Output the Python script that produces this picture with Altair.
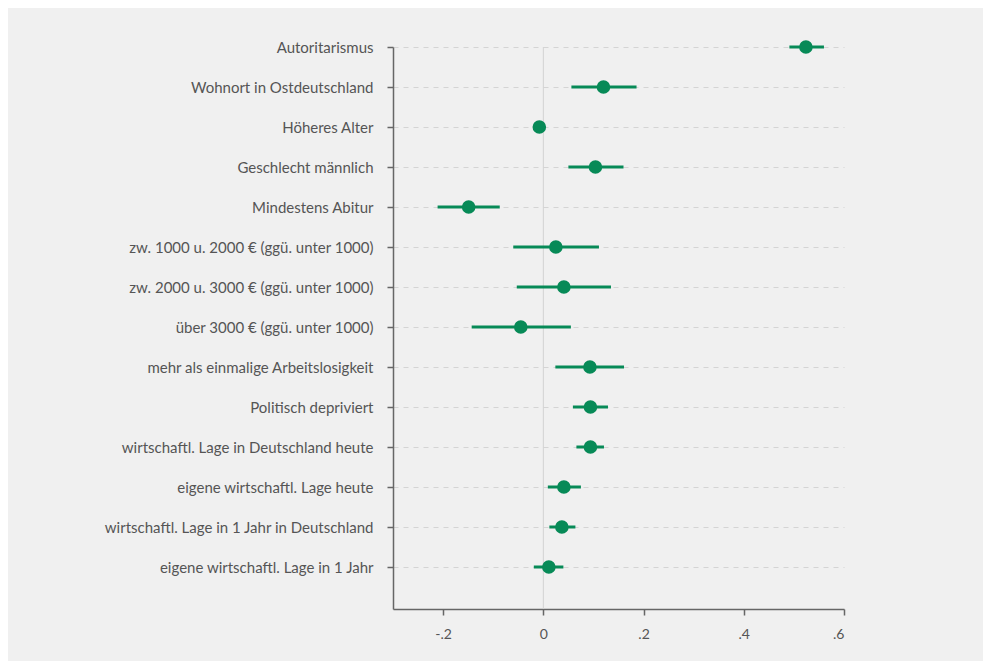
import json
import altair as alt
import pandas as pd

labels = [
    "Autoritarismus",
    "Wohnort in Ostdeutschland",
    "Höheres Alter",
    "Geschlecht männlich",
    "Mindestens Abitur",
    "zw. 1000 u. 2000 € (ggü. unter 1000)",
    "zw. 2000 u. 3000 € (ggü. unter 1000)",
    "über 3000 € (ggü. unter 1000)",
    "mehr als einmalige Arbeitslosigkeit",
    "Politisch depriviert",
    "wirtschaftl. Lage in Deutschland heute",
    "eigene wirtschaftl. Lage heute",
    "wirtschaftl. Lage in 1 Jahr in Deutschland",
    "eigene wirtschaftl. Lage in 1 Jahr",
]
coef = [0.524, 0.120, -0.008, 0.104, -0.149, 0.025, 0.041, -0.045, 0.093, 0.094, 0.094, 0.041, 0.037, 0.011]
lower = [0.491, 0.056, -0.016, 0.050, -0.211, -0.060, -0.053, -0.143, 0.024, 0.059, 0.066, 0.009, 0.012, -0.019]
upper = [0.560, 0.186, 0.000, 0.160, -0.087, 0.111, 0.135, 0.055, 0.161, 0.129, 0.121, 0.075, 0.064, 0.040]
x_ticks = [-0.2, 0, 0.2, 0.4, 0.6]

df = pd.DataFrame({
    "row": list(range(len(labels))),
    "label": labels,
    "coef": coef,
    "lower": lower,
    "upper": upper,
})

GREEN = "#078a57"
FONT = "Lato"

label_expr = json.dumps(labels, ensure_ascii=False) + "[datum.value]"
x_label_expr = ("datum.value == 0 ? '0' : (datum.value < 0 ? '-' : '') + "
                "replace(format(abs(datum.value), '.1f'), '0.', '.')")

x_scale = alt.Scale(domain=[-0.3, 0.6], nice=False, zero=False)
y_scale = alt.Scale(domain=[0, 14.05], reverse=True, nice=False, zero=False)

x_axis = alt.Axis(values=x_ticks, labelExpr=x_label_expr, grid=False, title=None,
                  domainColor="#666666", domainWidth=1.5, tickColor="#666666",
                  tickWidth=1.5, tickSize=6, labelPadding=12, labelColor="#555555",
                  labelFont=FONT, labelFontSize=14)
y_axis = alt.Axis(values=list(range(len(labels))), labelExpr=label_expr, title=None,
                  grid=True, gridDash=[5, 5], gridColor="#d4d4d4", gridWidth=1,
                  domainColor="#666666", domainWidth=1.5, tickColor="#666666",
                  tickWidth=1.5, tickSize=6, labelPadding=14, labelColor="#555555",
                  labelFont=FONT, labelFontSize=15, labelLimit=400)

base = alt.Chart(df)

zero_rule = alt.Chart(pd.DataFrame({"x": [0]})).mark_rule(
    color="#d2d2d2", strokeWidth=1
).encode(x=alt.X("x:Q", scale=x_scale, axis=x_axis))

bars = base.mark_rule(color=GREEN, strokeWidth=3).encode(
    x=alt.X("lower:Q", scale=x_scale, axis=x_axis),
    x2="upper:Q",
    y=alt.Y("row:Q", scale=y_scale, axis=y_axis),
)

points = base.mark_circle(color=GREEN, size=185, opacity=1).encode(
    x=alt.X("coef:Q", scale=x_scale, axis=x_axis),
    y=alt.Y("row:Q", scale=y_scale, axis=y_axis),
)

chart = alt.layer(zero_rule, bars, points).properties(
    width=451,
    height=562,
    background="#f0f0f0",
    padding={"left": 385, "top": 39, "right": 139, "bottom": 52},
    autosize=alt.AutoSizeParams(type="none"),
).configure_view(stroke=None)

chart.save("out.html", embed_options={"renderer": "svg", "actions": False})
